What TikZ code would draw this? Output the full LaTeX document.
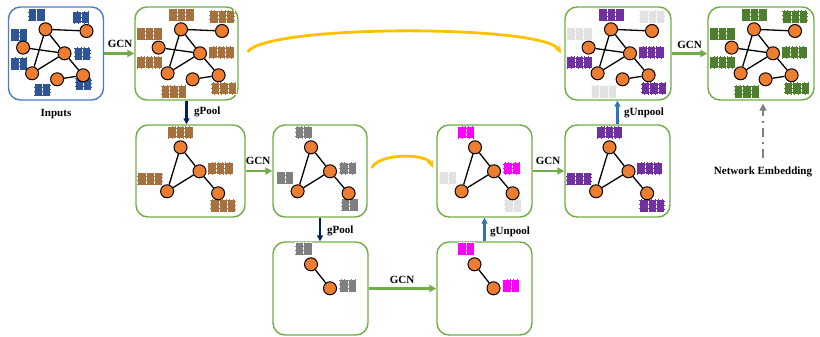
\documentclass[tikz,border=0pt]{standalone}
\usepackage{fontspec}
\setmainfont{Liberation Serif}
\usetikzlibrary{arrows.meta,calc}

\definecolor{boxgreen}{HTML}{70AD47}
\definecolor{boxblue}{HTML}{4A7BD0}
\definecolor{nodeor}{HTML}{ED7D31}
\definecolor{featblue}{HTML}{2F5597}
\definecolor{featbrown}{HTML}{A5713F}
\definecolor{featgray}{HTML}{7F7F7F}
\definecolor{featlight}{HTML}{E2E2E2}
\definecolor{featpurple}{HTML}{7030A0}
\definecolor{featpink}{HTML}{FF00FF}
\definecolor{featgreen}{HTML}{4E7F2E}
\definecolor{poolblue}{HTML}{002060}
\definecolor{unpoolblue}{HTML}{2E75B6}
\definecolor{skipyellow}{HTML}{FFC000}

% a block of #3 feature cells, top-left at origin #1 plus offset #2
\newcommand\featblk[4]{%
  \foreach \k in {1,...,#3}{%
    \path ($(#1)+(#2)+({(\k-1)*8.4},0)$) coordinate (fc);
    \fill[#4] (fc) rectangle ++(8.4,12.6);
    \draw[white,line width=0.35pt,densely dotted] (fc) rectangle ++(8.4,12.6);
  }}

% seven-node graph, prefix #1, origin #2, horizontal shift #3
\newcommand\gseven[3]{%
  \node[gnode] (#1a) at ($(#2)+(46.7+#3,23)$) {};
  \node[gnode] (#1b) at ($(#2)+(87.7+#3,24.7)$) {};
  \node[gnode] (#1c) at ($(#2)+(24.3+#3,41.3)$) {};
  \node[gnode] (#1d) at ($(#2)+(65.7+#3,47)$) {};
  \node[gnode] (#1e) at ($(#2)+(33.3+#3,67)$) {};
  \node[gnode] (#1f) at ($(#2)+(58.3+#3,73)$) {};
  \node[gnode] (#1g) at ($(#2)+(84.3+#3,69)$) {};
  \draw[gedge] (#1a) -- (#1b);
  \draw[gedge] (#1a) -- (#1d);
  \draw[gedge] (#1a) -- (#1e);
  \draw[gedge] (#1c) -- (#1d);
  \draw[gedge] (#1d) -- (#1e);
  \draw[gedge] (#1d) -- (#1g);
  \draw[gedge] (#1f) -- (#1g);
}

% four-node pooled graph
\newcommand\gfour[3]{%
  \node[gnode] (#1a) at ($(#2)+(46.7+#3,23)$) {};
  \node[gnode] (#1d) at ($(#2)+(65.7+#3,47)$) {};
  \node[gnode] (#1e) at ($(#2)+(33.3+#3,67)$) {};
  \node[gnode] (#1g) at ($(#2)+(84.3+#3,69)$) {};
  \draw[gedge] (#1a) -- (#1d);
  \draw[gedge] (#1a) -- (#1e);
  \draw[gedge] (#1d) -- (#1e);
  \draw[gedge] (#1d) -- (#1g);
}

% two-node pooled graph
\newcommand\gtwo[3]{%
  \node[gnode] (#1a) at ($(#2)+(46.7+#3,23)$) {};
  \node[gnode] (#1d) at ($(#2)+(65.7+#3,47)$) {};
  \draw[gedge] (#1a) -- (#1d);
}

\begin{document}
\begin{tikzpicture}[x=1pt,y=-1pt,
  panel/.style={draw=boxgreen,line width=1.4pt,rounded corners=12pt,inner sep=0pt},
  gnode/.style={circle,draw=black,line width=1pt,fill=nodeor,minimum size=13pt,inner sep=0pt},
  gedge/.style={draw=black,line width=1.3pt},
  gcn/.style={draw=boxgreen,line width=2.4pt,-{Triangle[length=7pt,width=7pt]}},
  pool/.style={draw=poolblue,line width=2.4pt,-{Triangle[length=6pt,width=6pt]}},
  unpool/.style={draw=unpoolblue,line width=2.4pt,-{Triangle[length=6pt,width=6pt]}},
  skip/.style={draw=skipyellow,line width=2.8pt,-{Stealth[length=8pt,width=7pt]}},
  embed/.style={draw=featgray,line width=2.2pt,dash pattern=on 9pt off 5pt on 2pt off 5pt,-{Triangle[length=7pt,width=7pt]}},
  lab/.style={font=\bfseries\fontsize{11}{13}\selectfont,text=black,inner sep=1pt}]
\useasboundingbox (0,0) rectangle (820,337);

% ---- panels ----
\node[panel,draw=boxblue,minimum width=95pt,minimum height=93pt] (A) at (56,53.5) {};
\node[panel,minimum width=103pt,minimum height=93pt] (B) at (186.5,53.5) {};
\node[panel,minimum width=109pt,minimum height=92pt] (C) at (190.5,171) {};
\node[panel,minimum width=94pt,minimum height=92pt] (D) at (320,171) {};
\node[panel,minimum width=95pt,minimum height=93pt] (F) at (320.5,288.5) {};
\node[panel,minimum width=95pt,minimum height=93pt] (G) at (484.5,288.5) {};
\node[panel,minimum width=95pt,minimum height=92pt] (E) at (484.5,171) {};
\node[panel,minimum width=105pt,minimum height=92pt] (H) at (617.5,171) {};
\node[panel,minimum width=106pt,minimum height=93pt] (I) at (618,53.5) {};
\node[panel,minimum width=106pt,minimum height=93pt] (J) at (761,53.5) {};

% ---- feature blocks ----
% inputs
\featblk{A.north west}{20.3,2.3}{2}{featblue}
\featblk{A.north west}{64.7,4.7}{2}{featblue}
\featblk{A.north west}{2.7,22.3}{2}{featblue}
\featblk{A.north west}{66,41}{2}{featblue}
\featblk{A.north west}{2.7,51}{2}{featblue}
\featblk{A.north west}{26,77.3}{2}{featblue}
\featblk{A.north west}{67,71}{2}{featblue}
% first GCN output
\featblk{B.north west}{34.3,2.3}{3}{featbrown}
\featblk{B.north west}{75,4}{3}{featbrown}
\featblk{B.north west}{2.3,21.3}{3}{featbrown}
\featblk{B.north west}{74.3,39.7}{3}{featbrown}
\featblk{B.north west}{2.3,49.7}{3}{featbrown}
\featblk{B.north west}{26.7,79}{3}{featbrown}
\featblk{B.north west}{76.7,75.7}{3}{featbrown}
% after first pooling
\featblk{C.north west}{32.3,1.7}{3}{featbrown}
\featblk{C.north west}{2,48.3}{3}{featbrown}
\featblk{C.north west}{72.3,37.7}{3}{featbrown}
\featblk{C.north west}{75,75}{3}{featbrown}
% second GCN output
\featblk{D.north west}{22.7,1.7}{2}{featgray}
\featblk{D.north west}{4.3,47.3}{2}{featgray}
\featblk{D.north west}{67,37.7}{2}{featgray}
\featblk{D.north west}{68.7,74.3}{2}{featgray}
% bottom level
\featblk{F.north west}{22.7,1.3}{2}{featgray}
\featblk{F.north west}{67,38}{2}{featgray}
\featblk{G.north west}{21.3,1.3}{2}{featpink}
\featblk{G.north west}{66.3,38}{2}{featpink}
% first unpooling
\featblk{E.north west}{21.3,1.7}{2}{featpink}
\featblk{E.north west}{3,47.3}{2}{featlight}
\featblk{E.north west}{67,37.7}{2}{featpink}
\featblk{E.north west}{68,75}{2}{featlight}
% GCN after first unpooling
\featblk{H.north west}{32.3,1.7}{3}{featpurple}
\featblk{H.north west}{2,48.3}{3}{featpurple}
\featblk{H.north west}{72.3,37.7}{3}{featpurple}
\featblk{H.north west}{75,75}{3}{featpurple}
% second unpooling
\featblk{I.north west}{34.3,2.3}{3}{featpurple}
\featblk{I.north west}{75,4}{3}{featlight}
\featblk{I.north west}{2.3,21.3}{3}{featlight}
\featblk{I.north west}{74.3,39.7}{3}{featpurple}
\featblk{I.north west}{2.3,49.7}{3}{featpurple}
\featblk{I.north west}{26.7,79}{3}{featlight}
\featblk{I.north west}{76.7,75.7}{3}{featpurple}
% output embedding
\featblk{J.north west}{34.3,2.3}{3}{featgreen}
\featblk{J.north west}{75,4}{3}{featgreen}
\featblk{J.north west}{2.3,21.3}{3}{featgreen}
\featblk{J.north west}{74.3,39.7}{3}{featgreen}
\featblk{J.north west}{2.3,49.7}{3}{featgreen}
\featblk{J.north west}{26.7,79}{3}{featgreen}
\featblk{J.north west}{76.7,75.7}{3}{featgreen}

% ---- graphs ----
\gseven{a}{A.north west}{-9}
\gseven{b}{B.north west}{0}
\gfour{c}{C.north west}{-1.5}
\gfour{d}{D.north west}{-8}
\gtwo{f}{F.north west}{-8}
\gtwo{g}{G.north west}{-8.5}
\gfour{e}{E.north west}{-8}
\gfour{h}{H.north west}{-1.5}
\gseven{i}{I.north west}{0}
\gseven{j}{J.north west}{0}

% ---- GCN connectors ----
\draw[gcn] (A.east) -- (B.west);
\draw[gcn] (C.east) -- (D.west);
\draw[gcn] (F.east) -- (G.west);
\draw[gcn] (E.east) -- (H.west);
\draw[gcn] (I.east) -- (J.west);
\node[lab] (l1) at (120,44) {GCN};
\node[lab] (l2) at (258,161) {GCN};
\node[lab] (l3) at (402,280) {GCN};
\node[lab] (l4) at (548,161) {GCN};
\node[lab] (l5) at (689.5,45) {GCN};

% ---- pooling / unpooling ----
\draw[pool] (B.south) -- (B.south |- C.north);
\draw[pool] (D.south) -- (D.south |- F.north);
\draw[unpool] (G.north) -- (G.north |- E.south);
\draw[unpool] (H.north) -- (H.north |- I.south);
\node[lab,anchor=west] (p1) at (193,112) {gPool};
\node[lab,anchor=west] (p2) at (326,231) {gPool};
\node[lab,anchor=west] (u1) at (489,232) {gUnpool};
\node[lab,anchor=west] (u2) at (623,113) {gUnpool};

% ---- skip connections ----
\coordinate (s1) at ($(B.east)+(9,-1.5)$);
\coordinate (s2) at ($(I.west)+(-3,0)$);
\draw[skip] (s1) .. controls +(18,-28) and +(-18,-29) .. (s2);
\coordinate (s3) at ($(D.east)+(4,-3)$);
\coordinate (s4) at ($(E.west)+(-3,-3)$);
\draw[skip] (s3) .. controls +(7,-15) and +(-7,-15) .. (s4);

% ---- labels ----
\node[lab] (inp) at (56,114) {Inputs};
\node[lab] (emb) at (763,172) {Network Embedding};
\coordinate (e0) at (763,158);
\draw[embed] (e0) -- ($(J.south -| e0)+(0,3)$);
\end{tikzpicture}
\end{document}
